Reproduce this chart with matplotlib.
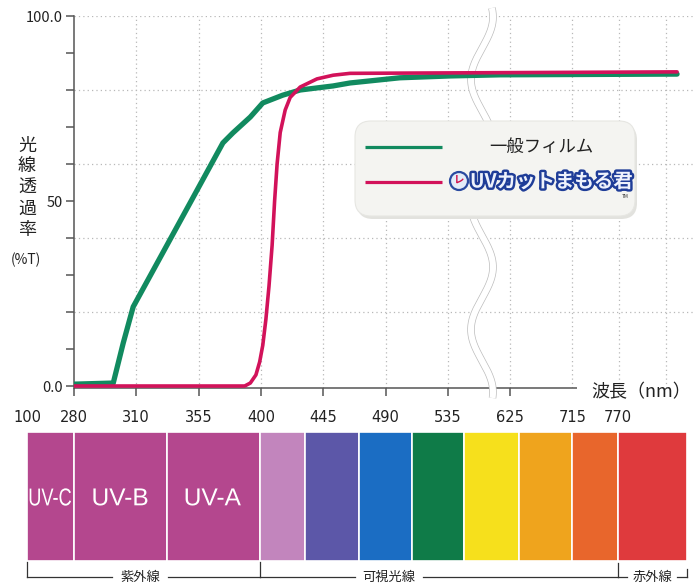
import numpy as np
import matplotlib
matplotlib.use('Agg')
import matplotlib.pyplot as plt
from matplotlib.patches import FancyBboxPatch, PathPatch, Circle
from matplotlib.transforms import Affine2D
from matplotlib.textpath import TextPath
from matplotlib.font_manager import FontProperties
import matplotlib.patheffects as pe

plt.rcParams['font.family'] = ['Noto Sans CJK JP', 'DejaVu Sans']

# ---------------- data ----------------
# x values are positions on the chart's (non-linear, broken) wavelength scale:
# 0 = 280 nm, 1 = 310 nm, 2 = 355 nm, ... 7 = 625 nm, 8 = 715 nm
wavelength_labels = ['100', '280', '310', '355', '400', '445', '490', '535', '625', '715', '770']
wavelength_label_pos = [-0.75, 0, 1, 2, 3, 4, 5, 6, 7, 8, 8.73]

series_names = ['一般フィルム', 'UVカットまもる君']
general_x = [0, 0.63, 0.79, 0.95, 1.89, 2.39, 2.55, 2.83, 3.03, 3.35, 3.63, 4.16, 4.43, 5.23, 6.04, 6.84, 9.68]
general_y = [0.5, 0.8, 11.6, 21.4, 50.3, 65.7, 68.4, 72.7, 76.5, 78.6, 80.0, 81.1, 81.9, 83.3, 83.8, 84.1, 84.3]
mamoru_x = [0, 2.74, 2.83, 2.92, 2.98, 3.03, 3.08, 3.13, 3.18, 3.22, 3.26, 3.31, 3.39, 3.47, 3.63, 3.90, 4.16, 4.43, 9.68]
mamoru_y = [0, 0, 0.8, 3.0, 6.5, 11.0, 18.0, 27.0, 38.0, 50.0, 60.0, 68.5, 74.6, 78.0, 80.8, 83.0, 84.0, 84.5, 84.9]

band_edges = [-0.76, 0, 1.49, 2.98, 3.70, 4.57, 5.43, 6.26, 7.14, 7.99, 8.73, 9.84]
band_names = ['UV-C', 'UV-B', 'UV-A', '', '', '', '', '', '', '', '']
band_colors = ['#b4478e', '#b4478e', '#b4478e', '#c285bd', '#5c57a8', '#1b6dc3',
               '#0f7b48', '#f6e01c', '#efa41d', '#e8662c', '#df3a3d']
region_names = ['紫外線', '可視光線', '赤外線']
region_bounds = [(-0.76, 2.98), (2.98, 8.73), (8.73, 9.84)]

# ---------------- layout ----------------
W, H = 699, 584
fig = plt.figure(figsize=(W / 100, H / 100), dpi=100)
fig.patch.set_facecolor('white')
pix = Affine2D().scale(1 / W, -1 / H).translate(0, 1) + fig.transFigure

X0, UNIT = 74, 62.3          # pixel of position 0 and pixels per position unit
ax_top, ax_bot, ax_right = 16, 388, 695
ax = fig.add_axes([X0 / W, (H - ax_bot) / H, (ax_right - X0) / W, (ax_bot - ax_top) / H])
ax.set_xlim(0, (ax_right - X0) / UNIT)
ax.set_ylim(-0.54, 100)
ax.patch.set_alpha(0)

axis_col = '#555555'
for s in ['top', 'right', 'bottom']:
    ax.spines[s].set_visible(False)
ax.spines['left'].set_color(axis_col)
ax.spines['left'].set_linewidth(1.1)

# grid
grid_kw = dict(color='#b8b8b8', linestyle=(0, (1, 2.5)), linewidth=0.9, zorder=1)
ax.hlines([20, 40, 60, 80, 100], 0, (ax_right - X0) / UNIT - 0.03, **grid_kw)
ax.vlines([1, 2, 3, 4, 5, 6, 7, 8, 8.75, 9.5], -0.54, 100, **grid_kw)

# custom bottom axis line (ends before the right part of the grid)
ax.plot([0, 8.07], [-0.54, -0.54], color=axis_col, lw=1.1, zorder=2, clip_on=False,
        solid_capstyle='butt')

# ticks
ax.set_yticks([0, 50, 100])
ax.set_yticklabels(['0.0', '50', '100.0'])
ax.set_yticks(np.arange(10, 100, 10), minor=True)
ax.tick_params(axis='y', which='both', direction='out', length=6, width=1.1,
               color=axis_col, labelsize=10.5, labelcolor='#222222', pad=2)
ax.set_xticks(range(8))
ax.set_xticklabels([])
ax.tick_params(axis='x', which='both', direction='out', length=5.5, width=1.1, color=axis_col)

# axis break wave
ys = np.linspace(8, 398, 400)
xs = 482 + 11 * np.sin(2 * np.pi * (ys - 235.75) / 125)
ax.plot(xs, ys, transform=pix, color='#bcbcbc', lw=5.4, zorder=2.5, clip_on=False,
        solid_capstyle='butt')
ax.plot(xs, ys, transform=pix, color='white', lw=4.4, zorder=2.6, clip_on=False,
        solid_capstyle='butt')

# curves
green = '#118a5f'
red = '#d2125a'
ax.plot(general_x, general_y, color=green, lw=3.8, zorder=3, solid_joinstyle='round',
        solid_capstyle='round')
ax.plot(mamoru_x, mamoru_y, color=red, lw=2.6, zorder=4, solid_joinstyle='round',
        solid_capstyle='round')

# axis titles
fig.text(27, 188, '\n'.join('光線透過率'), transform=pix, ha='center', va='center',
         fontsize=13, linespacing=1.22, color='#222222')
fig.text(26, 260, '(%T)', transform=pix, ha='center', va='center', fontsize=10,
         color='#222222')
fig.text(591, 392, '波長（nm）', transform=pix, ha='left', va='center', fontsize=13,
         color='#222222')

# ---------------- spectrum strip ----------------
sp_top = 400
sp = fig.add_axes([0, 0, 1, (H - sp_top) / H])
sp.set_xlim(-X0 / UNIT, (W - X0) / UNIT)
sp.set_ylim(H - sp_top, 0)
sp.axis('off')
band_top, band_bot = 432 - sp_top, 561 - sp_top
lefts = band_edges[:-1]
widths = np.diff(band_edges)
sp.bar(lefts, band_bot - band_top, width=widths, bottom=band_top, align='edge',
       color=band_colors, edgecolor='white', linewidth=1.2)

for lab, p in zip(wavelength_labels, wavelength_label_pos):
    sp.text(p, 417 - sp_top, lab, ha='center', va='center', fontsize=10.5,
            color='#222222', family=['DejaVu Sans'])

lib = FontProperties(family='Liberation Sans')
for name, l, r in zip(band_names, band_edges[:-1], band_edges[1:]):
    if not name:
        continue
    cx_px = X0 + UNIT * (l + r) / 2
    tp = TextPath((0, 0), name, size=24.5, prop=lib)
    bb = tp.get_extents()
    natural_w = bb.width
    avail = (r - l) * UNIT - 6
    sx = min(1.0, avail / natural_w)
    tr = Affine2D().translate(-(bb.x0 + bb.width / 2), -(bb.y0 + bb.height / 2)) \
        .scale(sx, -1).translate(cx_px, 497) + pix
    fig.patches.append(PathPatch(tp, transform=tr, facecolor='white', edgecolor='none'))

# region brackets
line_y = 577
br_kw = dict(color='#333333', lw=0.9)
text_pos = {'紫外線': 140, '可視光線': 389, '赤外線': 652}
text_half = {'紫外線': 28, '可視光線': 34, '赤外線': 25}
for name, (l, r) in zip(region_names, region_bounds):
    lp, rp = X0 + UNIT * l, X0 + UNIT * r
    c = text_pos[name]
    hw = text_half[name]
    fig.add_artist(plt.Line2D([lp, c - hw], [line_y, line_y], transform=pix, **br_kw))
    fig.add_artist(plt.Line2D([c + hw, rp], [line_y, line_y], transform=pix, **br_kw))
    fig.text(c, line_y, name, transform=pix, ha='center', va='center', fontsize=9.5,
             color='#222222')
for xv, y0 in [(X0 + UNIT * -0.76, 562), (X0 + UNIT * 2.98, 562),
               (X0 + UNIT * 8.73, 563), (X0 + UNIT * 9.84, 569)]:
    fig.add_artist(plt.Line2D([xv, xv], [y0, line_y], transform=pix, **br_kw))

# ---------------- legend ----------------
ov = fig.add_axes([0, 0, 1, 1], zorder=10)
ov.set_xlim(0, W)
ov.set_ylim(H, 0)
ov.axis('off')
ov.patch.set_alpha(0)
ov.add_patch(FancyBboxPatch((357, 124), 280, 95, boxstyle='round,pad=0,rounding_size=16',
                            facecolor='#e2e2de', edgecolor='none'))
ov.add_patch(FancyBboxPatch((355, 121), 280, 95, boxstyle='round,pad=0,rounding_size=16',
                            facecolor='#f4f4f1', edgecolor='#e6e6e2', lw=0.8))
ov.plot([365, 442], [147, 147], color=green, lw=2.3, solid_capstyle='butt')
ov.plot([365, 442], [182, 182], color=red, lw=2.3, solid_capstyle='butt')
ov.text(489, 147, series_names[0], ha='left', va='center', fontsize=12.5, color='#222222')
ov.add_patch(Circle((459, 181), 9, facecolor='#e4ecf8', edgecolor='#2a4aa0', lw=1.6))
ov.text(459, 181, 'レ', ha='center', va='center', fontsize=7.5, color='#d0104a',
        weight='bold')
ov.text(470, 182, series_names[1], ha='left', va='center', fontsize=14, weight='bold',
        color='#eef2fc',
        path_effects=[pe.withStroke(linewidth=3.5, foreground='#1f3d98')])
ov.text(622, 197, 'TM', ha='left', va='center', fontsize=3.5, color='#333333')

fig.savefig('out.png', dpi=100)
